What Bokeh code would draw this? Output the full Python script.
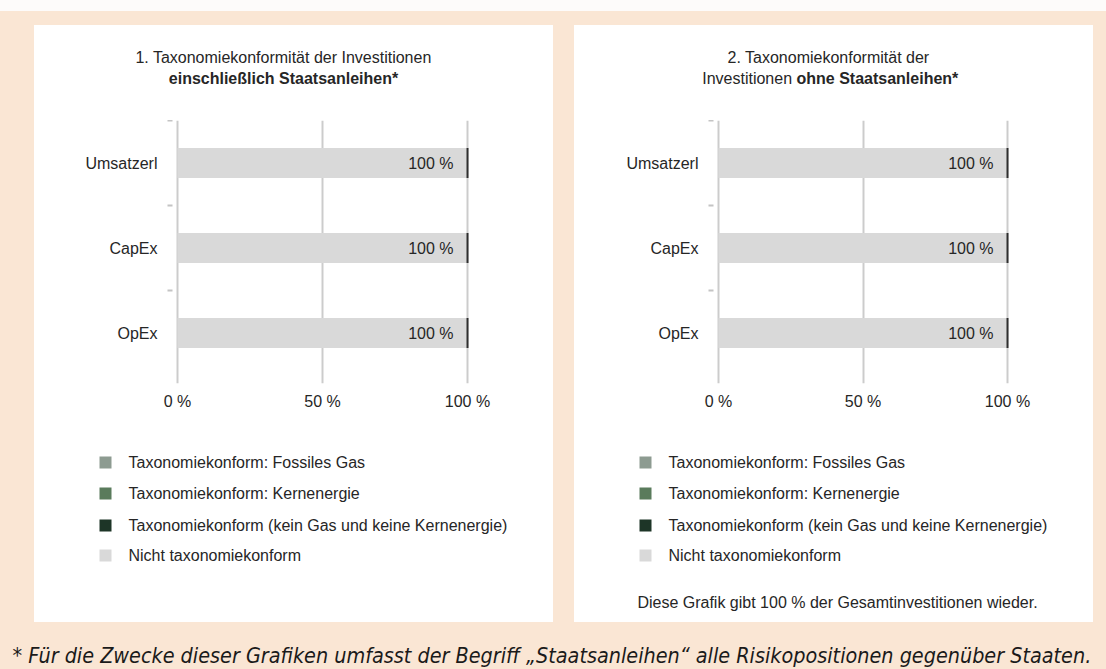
from bokeh.plotting import figure
from bokeh.models import (ColumnDataSource, FixedTicker, Range1d, Label, Spacer)
from bokeh.layouts import row, column
from bokeh.core.properties import value
from bokeh.embed import file_html
from bokeh.resources import INLINE

# ---------------- data ----------------
categories = ["Umsatzerl", "CapEx", "OpEx"]
series_names = [
    "Taxonomiekonform: Fossiles Gas",
    "Taxonomiekonform: Kernenergie",
    "Taxonomiekonform (kein Gas und keine Kernenergie)",
    "Nicht taxonomiekonform",
]
series_colors = ["#8d9b91", "#5a7b5c", "#1d3527", "#d9d9d9"]

incl_gas = [0, 0, 0]
incl_nuclear = [0, 0, 0]
incl_aligned = [0, 0, 0]
incl_not_aligned = [100, 100, 100]

excl_gas = [0, 0, 0]
excl_nuclear = [0, 0, 0]
excl_aligned = [0, 0, 0]
excl_not_aligned = [100, 100, 100]

x_ticks = [0, 50, 100]
x_tick_labels = ["0 %", "50 %", "100 %"]

title1_line1 = "1. Taxonomiekonformität der Investitionen"
title1_line2_bold = "einschließlich Staatsanleihen*"
title2_line1 = "2. Taxonomiekonformität der"
title2_line2_normal = "Investitionen "
title2_line2_bold = "ohne Staatsanleihen*"
note_text = "Diese Grafik gibt 100 % der Gesamtinvestitionen wieder."
footnote_text = ("*  Für die Zwecke dieser Grafiken umfasst der Begriff "
                 "\u201eStaatsanleihen\u201c alle Risikopositionen gegenüber Staaten.")

# ---------------- style ----------------
PEACH = "#fae6d4"
TXT = "#262626"
FONT = "Liberation Sans"
FS = "16px"
BAR_H = 0.353
KEYS = ["gas", "nuclear", "aligned", "not_aligned"]
PANEL_W = 519


def blank_fig(h, bg="white", w=PANEL_W):
    p = figure(width=w, height=h, x_range=Range1d(0, w), y_range=Range1d(h, 0),
               toolbar_location=None, output_backend="svg", min_border=0,
               x_axis_location=None, y_axis_location=None, title=None,
               outline_line_color=None, border_fill_color=bg,
               background_fill_color=bg, frame_align=False)
    p.grid.visible = False
    return p


def lab(p, x, y, text, bold=False, align="center", size=FS):
    p.add_layout(Label(x=x, y=y, text=text, text_align=align,
                       text_baseline="middle", text_font=FONT,
                       text_font_size=size, text_color=TXT,
                       text_font_style="bold" if bold else "normal"))


def make_chart(vals, x_lo, x_hi, min_left, min_right):
    n = len(categories)
    ys = [n - i - 0.5 for i in range(n)]
    totals = [sum(v[i] for v in vals) for i in range(n)]
    data = dict(y=ys, total=totals,
                y0=[y - BAR_H / 2 for y in ys], y1=[y + BAR_H / 2 for y in ys],
                label=["%d %%" % t for t in totals])
    for k, v in zip(KEYS, vals):
        data[k] = v
    src = ColumnDataSource(data)

    p = figure(width=PANEL_W, height=300, x_range=Range1d(x_lo, x_hi),
               y_range=Range1d(-0.094, n), toolbar_location=None,
               output_backend="svg", title=None, min_border_left=min_left,
               min_border_right=min_right, min_border_top=0,
               min_border_bottom=37, outline_line_color=None,
               background_fill_color="white", border_fill_color="white",
               frame_align=False)

    p.hbar_stack(KEYS, y="y", height=BAR_H, source=src,
                 fill_color=series_colors, line_color=None)
    p.segment(x0="total", x1="total", y0="y0", y1="y1", source=src,
              line_color="#2e2e2e", line_width=2)
    p.text(x="total", y="y", text="label", source=src, text_align="right",
           text_baseline="middle", x_offset=-14, text_color=TXT,
           text_font=value(FONT), text_font_size=FS)

    p.xaxis.ticker = FixedTicker(ticks=x_ticks)
    p.xaxis.major_label_overrides = dict(zip(x_ticks, x_tick_labels))
    p.xaxis.axis_line_color = None
    p.xaxis.major_tick_out = 0
    p.xaxis.major_tick_in = 0
    p.xaxis.minor_tick_out = 0
    p.xaxis.minor_tick_in = 0
    p.xaxis.major_label_standoff = 9
    p.xaxis.major_label_text_font = FONT
    p.xaxis.major_label_text_font_size = FS
    p.xaxis.major_label_text_color = TXT

    p.yaxis.ticker = FixedTicker(ticks=ys, minor_ticks=list(range(1, n + 1)))
    p.yaxis.major_label_overrides = dict(zip(ys, categories))
    p.yaxis.axis_line_color = None
    p.yaxis.major_tick_out = 0
    p.yaxis.major_tick_in = 0
    p.yaxis.minor_tick_out = 5
    p.yaxis.minor_tick_in = 0
    p.yaxis.minor_tick_line_color = "#c4c4c4"
    p.yaxis.minor_tick_line_width = 2
    p.yaxis.major_label_standoff = 10
    p.yaxis.major_label_text_font = FONT
    p.yaxis.major_label_text_font_size = FS
    p.yaxis.major_label_text_color = TXT

    p.xgrid.ticker = FixedTicker(ticks=x_ticks)
    p.xgrid.grid_line_color = "#cccccc"
    p.xgrid.grid_line_width = 2
    p.ygrid.grid_line_color = None
    return p


def make_legend_fig(note=None):
    b = blank_fig(202)
    rows = [42, 73, 105, 135]
    src = ColumnDataSource(dict(x=[71] * len(series_names), tx=[94] * len(series_names),
                                y=rows, name=series_names, color=series_colors))
    b.scatter(x="x", y="y", source=src, marker="square", size=12,
              fill_color="color", line_color=None)
    b.text(x="tx", y="y", text="name", source=src, text_align="left",
           text_baseline="middle", text_color=TXT, text_font=value(FONT),
           text_font_size=FS)
    if note:
        lab(b, 263, 182, note)
    return b


# ---- panel 1 ----
h1 = blank_fig(95)
lab(h1, 249, 32, title1_line1)
lab(h1, 249, 53, title1_line2_bold, bold=True)
c1 = make_chart([incl_gas, incl_nuclear, incl_aligned, incl_not_aligned],
                -1.72, 101.72, 138, 81)
l1 = make_legend_fig()
panel1 = column(h1, c1, l1, styles={"background-color": "white"})

# ---- panel 2 ----
h2 = blank_fig(95)
lab(h2, 254, 32, title2_line1)
lab(h2, 222, 53, title2_line2_normal, align="right")
lab(h2, 222, 53, title2_line2_bold, bold=True, align="left")
c2 = make_chart([excl_gas, excl_nuclear, excl_aligned, excl_not_aligned],
                -1.73, 101.73, 139, 81)
l2 = make_legend_fig(note_text)
panel2 = column(h2, c2, l2, styles={"background-color": "white"})

# ---- footnote ----
pf = blank_fig(47, bg=PEACH, w=1106)
pf.add_layout(Label(x=12, y=33, text=footnote_text, text_align="left",
                    text_baseline="alphabetic",
                    text_font="'DejaVu Sans Condensed', 'Liberation Sans Narrow', 'DejaVu Sans'",
                    text_font_style="italic", text_font_size="21.4px",
                    text_color="#1a1a1a"))

layout = column(
    Spacer(width=1106, height=11, styles={"background-color": "#fdfbfa"}),
    Spacer(width=1106, height=14),
    row(Spacer(width=34, height=597), panel1, Spacer(width=21, height=597),
        panel2, Spacer(width=13, height=597)),
    pf,
    styles={"background-color": PEACH},
)

open("out.html", "w").write(file_html(layout, INLINE))
